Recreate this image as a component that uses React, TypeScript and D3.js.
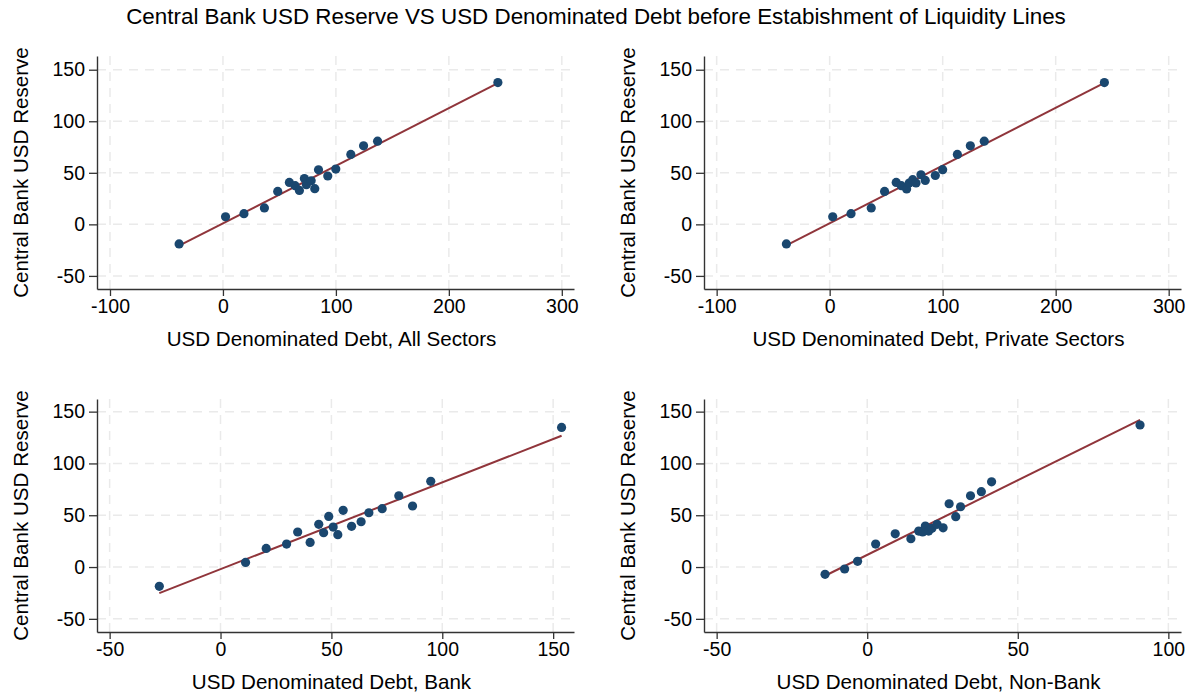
import React, { useEffect, useRef } from "react";
import * as d3 from "d3";

const title = "Central Bank USD Reserve VS USD Denominated Debt before Estabishment of Liquidity Lines";
const yLabel = "Central Bank USD Reserve";

const allX = [-38.8, 2.3, 18.6, 36.7, 48.5, 58.8, 63.9, 67.7, 72.1, 73.9, 78.1, 81.3, 84.6, 92.8, 99.9, 113.2, 124.5, 136.9, 243.4];
const allY = [-19.0, 7.4, 10.4, 15.9, 31.9, 40.7, 37.5, 32.9, 44.5, 38.4, 42.3, 34.6, 52.9, 46.9, 53.6, 67.8, 76.2, 80.7, 137.5];

const privX = [-38.3, 2.7, 18.9, 36.8, 48.6, 58.9, 63.4, 68.1, 70.4, 73.5, 76.4, 80.8, 84.6, 93.5, 100.0, 113.0, 124.5, 136.8, 243.1];
const privY = [-19.0, 7.4, 10.4, 15.9, 31.9, 40.7, 37.5, 34.3, 40.1, 43.3, 40.1, 48.1, 42.6, 47.4, 53.0, 67.8, 76.2, 80.7, 137.5];

const bankX = [-27.6, 11.3, 20.6, 29.8, 34.8, 40.4, 44.3, 46.5, 48.8, 50.8, 52.9, 55.3, 59.1, 63.4, 66.9, 72.9, 80.4, 86.6, 94.8, 153.8];
const bankY = [-18.6, 4.5, 18.0, 22.2, 33.8, 23.8, 41.2, 33.1, 48.9, 38.6, 31.2, 54.7, 39.3, 43.7, 52.4, 56.3, 68.8, 58.9, 82.7, 134.8];

const nonBankX = [-14.0, -7.5, -3.2, 2.8, 9.3, 14.5, 17.1, 18.4, 19.3, 20.4, 21.5, 23.2, 25.2, 27.2, 29.4, 31.0, 34.3, 37.9, 41.3, 90.6];
const nonBankY = [-7.0, -1.9, 5.5, 22.2, 32.1, 27.3, 34.7, 33.8, 39.6, 34.7, 37.4, 41.2, 37.9, 61.1, 48.6, 58.2, 68.8, 72.7, 82.3, 137.1];

const yTicks = [-50, 0, 50, 100, 150];
const xTicksWide = [-100, 0, 100, 200, 300];
const xTicksBank = [-50, 0, 50, 100, 150];
const xTicksNonBank = [-50, 0, 50, 100];

const panels = [
  { xs: allX, ys: allY, xLabel: "USD Denominated Debt, All Sectors", xTicks: xTicksWide, xDom: [-111.5, 310.8], yDom: [-62.7, 163.3], left: 97, top: 56 },
  { xs: privX, ys: privY, xLabel: "USD Denominated Debt, Private Sectors", xTicks: xTicksWide, xDom: [-111.2, 310.9], yDom: [-62.7, 163.3], left: 704, top: 56 },
  { xs: bankX, ys: bankY, xLabel: "USD Denominated Debt, Bank", xTicks: xTicksBank, xDom: [-55.7, 159.4], yDom: [-62.7, 162.2], left: 97, top: 399 },
  { xs: nonBankX, ys: nonBankY, xLabel: "USD Denominated Debt, Non-Bank", xTicks: xTicksNonBank, xDom: [-54.2, 104.2], yDom: [-62.7, 162.2], left: 704, top: 399 },
];

const W = 1192;
const H = 694;
const plotW = 477;
const plotH = 233;
const font = "'Liberation Sans', Arial, sans-serif";

function fitLine(xs, ys) {
  const mx = d3.mean(xs);
  const my = d3.mean(ys);
  let sxy = 0;
  let sxx = 0;
  xs.forEach((x, i) => {
    sxy += (x - mx) * (ys[i] - my);
    sxx += (x - mx) * (x - mx);
  });
  const b = sxy / sxx;
  return { a: my - b * mx, b };
}

const App = () => {
  const ref = useRef(null);

  useEffect(() => {
    const svg = d3.select(ref.current);
    svg.selectAll("*").remove();

    svg.append("rect").attr("width", W).attr("height", H).attr("fill", "white");

    svg
      .append("text")
      .attr("x", W / 2)
      .attr("y", 24)
      .attr("text-anchor", "middle")
      .style("font-family", font)
      .style("font-size", "22.4px")
      .attr("fill", "#000")
      .text(title);

    panels.forEach((p) => {
      const g = svg.append("g").attr("transform", `translate(${p.left},${p.top})`);

      const x = d3.scaleLinear().domain(p.xDom).range([0, plotW]);
      const y = d3.scaleLinear().domain(p.yDom).range([plotH, 0]);

      // dashed grid
      g.selectAll(".gx")
        .data(p.xTicks)
        .enter()
        .append("line")
        .attr("x1", (d) => x(d))
        .attr("x2", (d) => x(d))
        .attr("y1", 0)
        .attr("y2", plotH)
        .attr("stroke", "#eaeaea")
        .attr("stroke-width", 1.5)
        .attr("stroke-dasharray", "9,7");

      g.selectAll(".gy")
        .data(yTicks)
        .enter()
        .append("line")
        .attr("x1", 0)
        .attr("x2", plotW)
        .attr("y1", (d) => y(d))
        .attr("y2", (d) => y(d))
        .attr("stroke", "#eaeaea")
        .attr("stroke-width", 1.5)
        .attr("stroke-dasharray", "9,7");

      // fit line
      const { a, b } = fitLine(p.xs, p.ys);
      const x0 = d3.min(p.xs);
      const x1 = d3.max(p.xs);
      g.append("path")
        .datum([x0, x1])
        .attr("fill", "none")
        .attr("stroke", "#90353b")
        .attr("stroke-width", 2)
        .attr(
          "d",
          d3
            .line()
            .x((d) => x(d))
            .y((d) => y(a + b * d))
        );

      // points
      g.selectAll(".pt")
        .data(p.xs.map((v, i) => [v, p.ys[i]]))
        .enter()
        .append("circle")
        .attr("cx", (d) => x(d[0]))
        .attr("cy", (d) => y(d[1]))
        .attr("r", 4.6)
        .attr("fill", "#1a476f");

      // axes
      const xAxis = g
        .append("g")
        .attr("transform", `translate(0,${plotH})`)
        .call(
          d3.axisBottom(x).tickValues(p.xTicks).tickFormat((d) => String(d))
            .tickSize(7).tickPadding(3).tickSizeOuter(0)
        );
      const yAxis = g
        .append("g")
        .call(
          d3.axisLeft(y).tickValues(yTicks).tickFormat((d) => String(d))
            .tickSize(8).tickPadding(4).tickSizeOuter(0)
        );

      [xAxis, yAxis].forEach((ax) => {
        ax.select(".domain").attr("stroke", "#333").attr("stroke-width", 1.4);
        ax.selectAll(".tick line").attr("stroke", "#333").attr("stroke-width", 1.3);
        ax.selectAll(".tick text")
          .style("font-family", font)
          .style("font-size", "19.5px")
          .attr("fill", "#000");
      });

      g.append("text")
        .attr("x", plotW / 2 - 4)
        .attr("y", plotH + 57)
        .attr("text-anchor", "middle")
        .style("font-family", font)
        .style("font-size", "20.6px")
        .attr("fill", "#000")
        .text(p.xLabel);

      g.append("text")
        .attr("transform", "rotate(-90)")
        .attr("x", -plotH / 2)
        .attr("y", -69)
        .attr("text-anchor", "middle")
        .style("font-family", font)
        .style("font-size", "20.6px")
        .attr("fill", "#000")
        .text(yLabel);
    });
  }, []);

  return (
    <svg
      ref={ref}
      width={W}
      height={H}
      style={{ position: "absolute", left: 0, top: 0, display: "block" }}
    />
  );
};

export default App;
